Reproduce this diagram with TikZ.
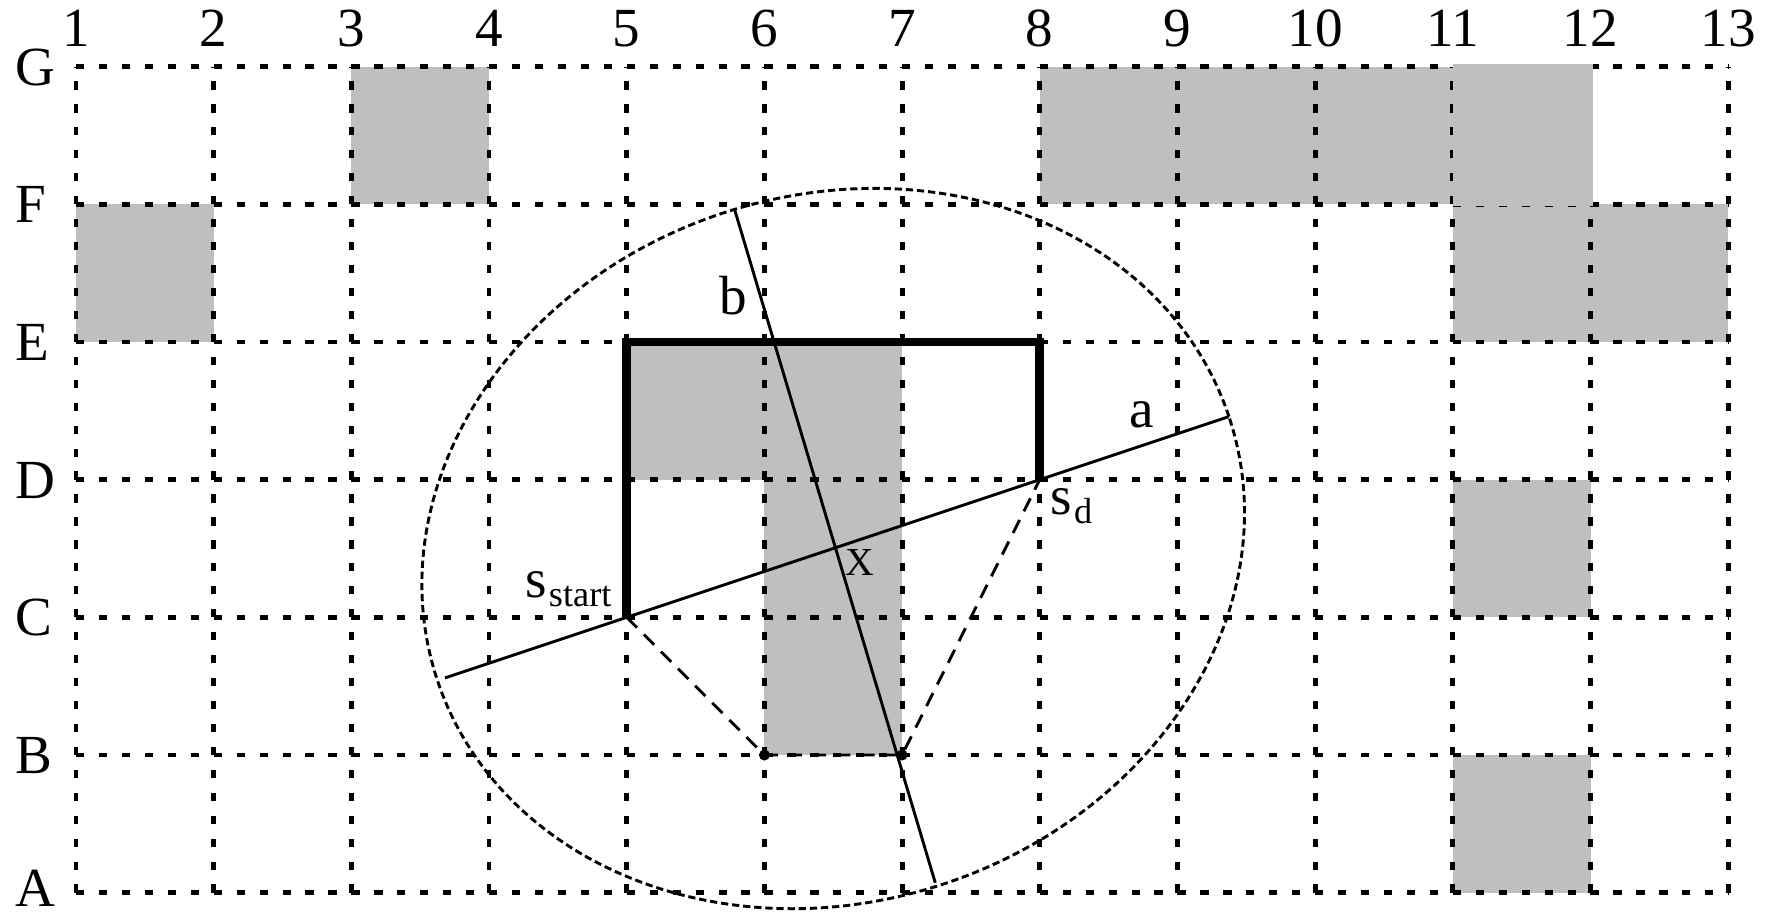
\documentclass[tikz,border=0pt]{standalone}
\usepackage{fontspec}
\setmainfont{Liberation Serif}
\usetikzlibrary{positioning,calc}
\definecolor{blockgray}{RGB}{191,191,191}
\newcommand{\lowtext}[1]{\hspace{0.4pt}\raisebox{-1.9pt}{\fontsize{7.5}{8}\selectfont #1}}
\tikzset{
  gridline/.style={line width=1pt, dash pattern=on 1.7pt off 3.042pt},
  blocked/.style={fill=blockgray},
  costpath/.style={line width=1.8pt, line join=miter},
  axisline/.style={line width=0.6pt},
  bound/.style={line width=0.6pt, dash pattern=on 1.5pt off 0.8pt},
  detour/.style={line width=0.6pt, dash pattern=on 3pt off 2pt},
  collbl/.style={font=\fontsize{11.4}{13}\selectfont, anchor=base, inner sep=0pt},
  rowlbl/.style={font=\fontsize{11.4}{13}\selectfont, anchor=base west, inner sep=0pt},
  ptlbl/.style={font=\fontsize{11.4}{13}\selectfont, inner sep=0pt},
  vertex/.style={circle, fill=black, inner sep=0pt, minimum size=0.8mm},
}
\begin{document}
\begin{tikzpicture}
\useasboundingbox (0.448,-0.162) rectangle (13.333,6.484);
% blocked cells
\fill[blocked] (3,5) rectangle (4,6);
\fill[blocked] (8,5) rectangle (11,6);
\fill[blocked] (1,4) rectangle (2,5);
\fill[blocked] (11,4) rectangle (13,5);
\fill[blocked] (5,3) rectangle (7,4);
\fill[blocked] (6,1) rectangle (7,3);
\fill[blocked] (11,2) rectangle (12,3);
\fill[blocked] (11,0) rectangle (12,1);
% grid
\foreach \y in {0,...,6} \draw[gridline] (1,\y) -- (13,\y);
\foreach \x in {1,...,13} \draw[gridline] (\x,0) -- (\x,6);
\fill[blocked] (11,4.985) rectangle (12.018,6.018);
% labels of the grid
\foreach \x in {1,...,13} \node[collbl] (col\x) at (\x,6.143) {\x};
\foreach \y/\r in {1/B,2/C,3/D,4/E,5/F,6/G} \node[rowlbl] (row\r) at (0.556,\y-0.135) {\r};
\node[rowlbl] (rowA) at (0.556,-0.1) {A};
% points
\coordinate (sstart) at (5,2);
\coordinate (sgoal) at (8,3);
\coordinate (ctr) at (6.5,2.5);
\coordinate (cornerL) at (5,4);
\coordinate (cornerR) at (8,4);
\coordinate (aL) at ($(sstart)!-0.44!(sgoal)$);
\coordinate (aR) at ($(sstart)!1.457!(sgoal)$);
\coordinate (bT) at (5.783,4.964);
\coordinate (bB) at (7.241,0.072);
\node[vertex] (viaL) at (6,1) {};
\node[vertex] (viaR) at (7,1) {};
% bound and axes
\draw[bound, rotate around={18.435:(ctr)}] (ctr) ellipse [x radius=3.03, y radius=2.565];
\draw[costpath] (sstart) -- (cornerL) -- (cornerR) -- (sgoal);
\draw[axisline] (aL) -- (aR);
\draw[axisline] (bT) -- (bB);
\draw[detour] (sstart) -- (viaL.center) -- (viaR.center) -- (sgoal);
\node[ptlbl, anchor=base] (lblb) at (5.773,4.20) {b};
\node[ptlbl, anchor=base] (lbla) at (8.737,3.376) {a};
\node[ptlbl, anchor=base, font=\fontsize{8.2}{9}\selectfont] (lblx) at (6.69,2.303) {X};
\node[ptlbl, anchor=base east] (lblstart) at (4.896,2.145) {s\lowtext{start}};
\node[ptlbl, anchor=base west] (lblgoal) at (8.072,2.747) {s\lowtext{d}};
\end{tikzpicture}
\end{document}
